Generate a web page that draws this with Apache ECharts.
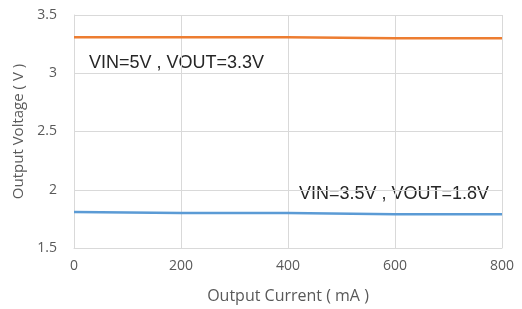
<!DOCTYPE html>
<html>
<head>
<meta charset="utf-8">
<script src="https://cdn.jsdelivr.net/npm/echarts@6/dist/echarts.min.js"></script>
<style>
  html, body { margin: 0; padding: 0; background: #fff; }
  #chart { width: 522px; height: 309px; }
</style>
</head>
<body>
<div id="chart"></div>
<script>
const currents = [0, 200, 400, 600, 800]
const vout33 = [3.31, 3.31, 3.31, 3.30, 3.30]
const vout18 = [1.81, 1.80, 1.80, 1.79, 1.79]
const label33 = 'VIN=5V , VOUT=3.3V'
const label18 = 'VIN=3.5V , VOUT=1.8V'

const chart = echarts.init(document.getElementById('chart'))
const gridColor = '#d9d9d9'
const tickColor = '#595959'
const font = 'Open Sans'

chart.setOption({
  animation: false,
  grid: { left: 74, right: 20, top: 15, bottom: 61 },
  xAxis: {
    type: 'value',
    min: 0, max: 800, interval: 200,
    name: 'Output Current ( mA )',
    nameLocation: 'middle',
    nameGap: 40,
    nameTextStyle: { color: tickColor, fontSize: 16, fontFamily: font },
    axisLine: { lineStyle: { color: gridColor } },
    axisTick: { show: false },
    axisLabel: { color: tickColor, fontSize: 14, fontFamily: font, margin: 11 },
    splitLine: { show: true, lineStyle: { color: gridColor } },
  },
  yAxis: {
    type: 'value',
    min: 1.5, max: 3.5, interval: 0.5,
    name: 'Output Voltage ( V )',
    nameLocation: 'middle',
    nameGap: 47,
    nameTextStyle: { color: tickColor, fontSize: 15, fontFamily: font },
    axisLine: { show: true, lineStyle: { color: gridColor } },
    axisTick: { show: false },
    axisLabel: { color: tickColor, fontSize: 14, fontFamily: font, margin: 17 },
    splitLine: { show: true, lineStyle: { color: gridColor } },
  },
  series: [
    {
      name: label33,
      type: 'line',
      data: currents.map((x, i) => [x, vout33[i]]),
      symbol: 'none',
      lineStyle: { color: '#ed7d31', width: 2.5 },
    },
    {
      name: label18,
      type: 'line',
      data: currents.map((x, i) => [x, vout18[i]]),
      symbol: 'none',
      lineStyle: { color: '#5b9bd5', width: 2.5 },
    },
  ],
  graphic: [
    {
      type: 'text', left: 89, top: 54,
      style: { text: label33, fill: '#262626', fontSize: 18, fontFamily: 'Liberation Sans' },
    },
    {
      type: 'text', left: 299, top: 185,
      style: { text: label18, fill: '#262626', fontSize: 18, fontFamily: 'Liberation Sans' },
    },
  ],
})
</script>
</body>
</html>
